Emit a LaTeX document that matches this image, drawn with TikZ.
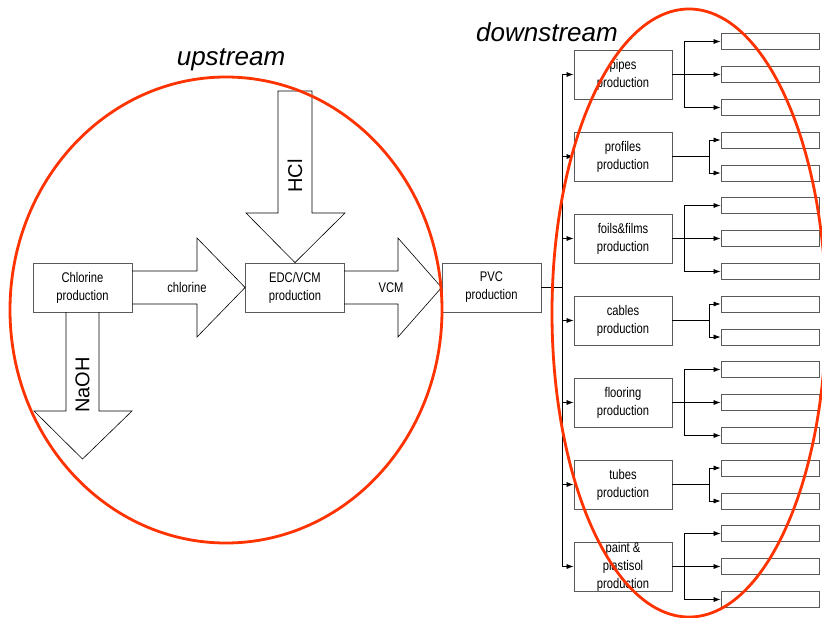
\documentclass[tikz,border=0pt]{standalone}
\usepackage{fontspec}
\setmainfont{Liberation Sans}
\newfontfamily\narrowfont[FakeStretch=0.8]{Liberation Sans}
\usetikzlibrary{arrows.meta, positioning}
\definecolor{Ring}{RGB}{255,51,0}
\definecolor{Frame}{rgb}{0.35,0.35,0.35}

\tikzset{
  procbox/.style={draw=Frame, line width=0.8pt, minimum width=99pt, minimum height=49pt,
    inner sep=0pt, align=center, font=\narrowfont\fontsize{14}{18}\selectfont},
  outbox/.style={draw=Frame, line width=0.8pt, minimum width=98pt, minimum height=16pt, inner sep=0pt},
  bigarrow/.style={draw=black, line width=0.6pt},
  link/.style={draw=black, line width=0.7pt, -{Latex[length=7pt,width=5pt]}},
  ring/.style={draw=Ring, line width=2.8pt},
  zone/.style={font=\itshape\fontsize{26}{30}\selectfont},
}

\begin{document}
\begin{tikzpicture}[x=1pt, y=-1pt]
    \clip (0,0) rectangle (822,618);

    % upstream chain
    \node[procbox] (chl) at (82.5,287.5) {Chlorine\\production};
    \node[procbox] (edc) at (295,287.5) {EDC/VCM\\production};
    \node[procbox] (pvc) at (491.5,287.5) {PVC\\production};
    \coordinate (naohtip) at (82.5,459);

    % block arrows
    \draw[bigarrow] (132,271) -- (197,271) -- (197,238) -- (edc.west) -- (197,337) -- (197,304) -- (132,304);
    \draw[bigarrow] (344,271) -- (398,271) -- (398,238) -- (pvc.west) -- (398,337) -- (398,304) -- (344,304);
    \draw[bigarrow] (278,91) -- (312,91) -- (312,213) -- (345,213) -- (edc.north) -- (246,213) -- (278,213) -- cycle;
    \draw[bigarrow] (66,312) -- (66,411) -- (34,411) -- (naohtip) -- (132,411) -- (99,411) -- (99,312);

    % arrow labels
    \node[font=\narrowfont\fontsize{14}{18}\selectfont] (cllabel) at (187,287.5) {chlorine};
    \node[font=\narrowfont\fontsize{14}{18}\selectfont] (vcmlabel) at (391,287.5) {VCM};
    \node[font=\fontsize{20}{24}\selectfont, rotate=90] (hcllabel) at (295,176) {HCl};
    \node[font=\fontsize{20}{24}\selectfont, rotate=90] (naohlabel) at (82.5,385) {NaOH};

    % downstream tree
    \draw[line width=0.7pt] (pvc.east) -- ++(21,0) coordinate (trunk);
    \foreach \nm/\txt/\n [count=\i from 0] in {
        pipes/{pipes\\production}/3,
        profiles/{profiles\\production}/2,
        foils/{foils\&films\\production}/3,
        cables/{cables\\production}/2,
        flooring/{flooring\\production}/3,
        tubes/{tubes\\production}/2,
        paint/{paint \&\\plastisol\\production}/3}{
      \node[procbox, minimum width=98pt] (\nm) at (623,74.5+82*\i) {\txt};
      \draw[link] (trunk) |- (\nm.west);
      \ifnum\n=3
        \foreach \k/\dy in {1/-33,2/0,3/33}
          \node[outbox] (\nm-\k) at (770,74.5+82*\i+\dy) {};
        \draw[link] (\nm.east) -- (\nm-2.west);
        \draw[link] (\nm.east) -- ++(12,0) |- (\nm-1.west);
        \draw[link] (\nm.east) -- ++(12,0) |- (\nm-3.west);
      \else
        \foreach \k/\dy in {1/-16.5,2/16.5}
          \node[outbox] (\nm-\k) at (770,74.5+82*\i+\dy) {};
        \draw[link] (\nm.east) -- ++(37,0) |- (\nm-1.west);
        \draw[link] (\nm.east) -- ++(37,0) |- (\nm-2.west);
      \fi
    }

    % zone labels and rings
    \node[zone] (up) at (231,60) {upstream};
    \node[zone] (down) at (547,32) {downstream};
    \draw[ring] (226,310) ellipse [x radius=216pt, y radius=233pt];
    \draw[ring] (689,313) ellipse [x radius=137pt, y radius=304pt];
\end{tikzpicture}
\end{document}
